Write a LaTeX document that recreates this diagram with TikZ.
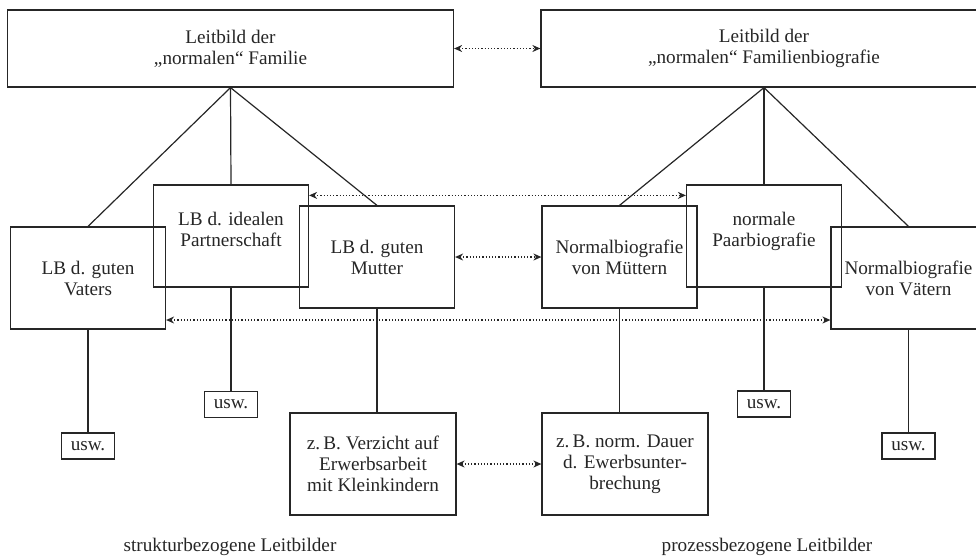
\documentclass[tikz,border=0pt]{standalone}
\usepackage{fontspec}
\setmainfont{Liberation Serif}
\usetikzlibrary{arrows.meta}
\begin{document}
\begin{tikzpicture}[x=.5pt,y=-.5pt,line width=.6,color=black!85,
box/.style={draw,align=center,inner sep=0pt,minimum width=77.5pt,minimum height=51pt,font=\fontsize{9.6}{10.5}\selectfont},
topbox/.style={box,minimum width=223pt,minimum height=38.5pt},
examplebox/.style={box,minimum width=83pt},
uswbox/.style={box,minimum width=26.5pt,minimum height=13pt},
relation/.style={{Stealth[length=4pt,width=3.5pt]}-{Stealth[length=4pt,width=3.5pt]},densely dotted}]
\useasboundingbox (0,0) rectangle (976,559);
\clip (0,0) rectangle (976,559);
% obere Ebene
\node[topbox] (famlb) at (230.5,48.5) {Leitbild der\\„normalen“ Familie};
\node[topbox] (biolb) at (764,48.5) {Leitbild der\\„normalen“ Familienbiografie};
% strukturbezogen
\node[box] (vaters) at (88,278) {LB d. guten\\Vaters};
\node[box] (partner) at (231,236) {LB d. idealen\\Partnerschaft\\[-4pt]};
\node[box] (mutter) at (377,257) {LB d. guten\\Mutter};
% prozessbezogen
\node[box] (muettern) at (619.5,257) {Normalbiografie\\von Müttern};
\node[box] (paar) at (764,236) {normale\\Paarbiografie\\[-4pt]};
\node[box] (vaetern) at (908.5,278) {Normalbiografie\\von Vätern};
% Beispiele
\node[examplebox] (verzicht) at (373,464) {z.\,B. Verzicht auf\\Erwerbsarbeit\\mit Kleinkindern};
\node[examplebox] (dauer) at (625,464) {z.\,B. norm. Dauer\\d. Ewerbsunter-\\brechung};
\node[uswbox] (uswa) at (88,446) {usw.};
\node[uswbox] (uswb) at (231,404.5) {usw.};
\node[uswbox] (uswc) at (764,404) {usw.};
\node[uswbox] (uswd) at (908.5,446) {usw.};
\node[font=\fontsize{9.6}{10.5}\selectfont] (strukt) at (230,547) {strukturbezogene Leitbilder};
\node[font=\fontsize{9.6}{10.5}\selectfont] (prozess) at (767,547) {prozessbezogene Leitbilder};
% Verbindungen
\foreach \n in {vaters,partner,mutter}
\draw (famlb.south) -- (\n.north);
\foreach \n in {muettern,paar,vaetern}
\draw (biolb.south) -- (\n.north);
\draw (vaters) -- (uswa);
\draw (partner) -- (uswb);
\draw (paar) -- (uswc);
\draw (vaetern) -- (uswd);
\draw (mutter.south) -- (mutter.south |- verzicht.north);
\draw (muettern.south) -- (muettern.south |- dauer.north);
% Entsprechungen
\draw[relation] (famlb) -- (biolb);
\draw[relation] ([yshift=-5.5pt]partner.north east) -- ([yshift=-5.5pt]paar.north west);
\draw[relation] (mutter) -- (muettern);
\draw[relation] (vaters.east |- 0,320) -- (vaetern.west |- 0,320);
\draw[relation] (verzicht) -- (dauer);
\end{tikzpicture}
\end{document}
